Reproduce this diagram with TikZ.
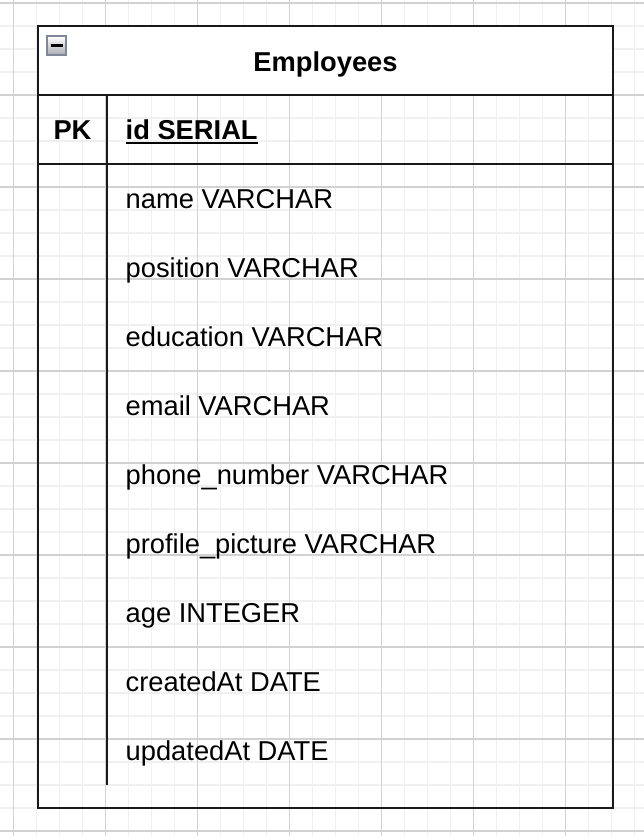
\documentclass[tikz,border=0pt]{standalone}
\usepackage{fontspec}
\setmainfont{Liberation Sans}
\definecolor{gridminor}{RGB}{240,240,240}
\definecolor{gridmajor}{RGB}{210,210,210}
\definecolor{tableline}{RGB}{25,25,25}
\definecolor{iconedge}{RGB}{128,136,152}
\definecolor{iconlow}{RGB}{170,172,178}
\begin{document}
\begin{tikzpicture}[x=1pt,y=-1pt,
  tablefont/.style={font=\fontsize{27.3pt}{32pt}\selectfont, inner sep=0pt, text=black},
  boldtext/.style={tablefont, font=\fontsize{27.3pt}{32pt}\selectfont\bfseries},
  rowtext/.style={tablefont, anchor=base west},
  frame/.style={draw=tableline, line width=2pt},
  minorline/.style={draw=gridminor, line width=1.6pt},
  majorline/.style={draw=gridmajor, line width=1.2pt}]
\useasboundingbox (0,0) rectangle (644,836);
\clip (0,0) rectangle (644,836);
\fill[white] (0,0) rectangle (644,836);
% grid
\foreach \i in {-1,...,28} {\draw[minorline] (13.5+23*\i,0) -- (13.5+23*\i,836);}
\foreach \i in {0,...,36} {\draw[minorline] (0,3+23*\i) -- (644,3+23*\i);}
\foreach \i in {0,...,7} {\draw[majorline] (13.5+92*\i,0) -- (13.5+92*\i,836);}
\foreach \i in {0,...,9} {\draw[majorline] (0,3+92*\i) -- (644,3+92*\i);}
% table
\coordinate (tl) at (38,26);
\coordinate (br) at (613,808);
\coordinate (hl) at (38,95);
\coordinate (hr) at (613,95);
\coordinate (pl) at (38,164);
\coordinate (pr) at (613,164);
\coordinate (dt) at (107,95);
\coordinate (db) at (107,785);
\fill[white] (tl) rectangle (hr);
\draw[frame] (tl) rectangle (br);
\draw[frame] (hl) -- (hr);
\draw[frame] (pl) -- (pr);
\draw[frame] (dt) -- (db);
% collapse icon
\shade[top color=white, bottom color=iconlow, draw=iconedge, line width=1.5pt] (47,36) rectangle (66,55);
\draw[black, line width=2.5pt] (50.5,45.5) -- (62.5,45.5);
% texts
\node[boldtext, anchor=base] (title) at (325.5,71.5) {Employees};
\node[boldtext, anchor=base] (pk) at (72.5,139.5) {PK};
\node[boldtext, anchor=base west] (idtxt) at (125.5,139.5) {id SERIAL};
\draw[black, line width=2.6pt] ([yshift=-3.6pt]idtxt.base west) -- ([yshift=-3.6pt]idtxt.base east);
\node[rowtext] (r1) at (125.5,208) {name VARCHAR};
\node[rowtext] (r2) at (125.5,277) {position VARCHAR};
\node[rowtext] (r3) at (125.5,346) {education VARCHAR};
\node[rowtext] (r4) at (125.5,415) {email VARCHAR};
\node[rowtext] (r5) at (125.5,484) {phone\_number VARCHAR};
\node[rowtext] (r6) at (125.5,553) {profile\_picture VARCHAR};
\node[rowtext] (r7) at (125.5,622) {age INTEGER};
\node[rowtext] (r8) at (125.5,691) {createdAt DATE};
\node[rowtext] (r9) at (125.5,760) {updatedAt DATE};
\end{tikzpicture}
\end{document}
